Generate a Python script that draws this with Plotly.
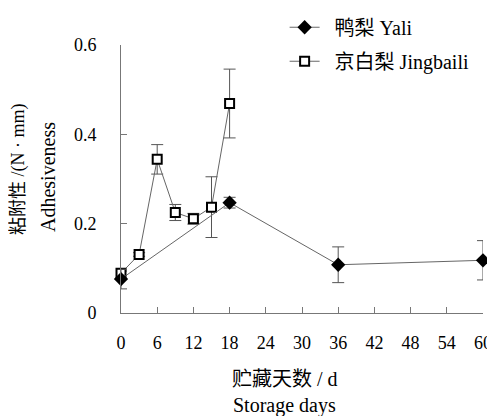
import plotly.graph_objects as go

yali_days = [0, 18, 36, 60]
yali_vals = [0.076, 0.247, 0.108, 0.118]
yali_err = [0.022, 0.012, 0.040, 0.044]

jb_days = [0, 3, 6, 9, 12, 15, 18]
jb_vals = [0.089, 0.131, 0.344, 0.225, 0.211, 0.237, 0.469]
jb_err = [0.005, 0.004, 0.033, 0.018, 0.012, 0.068, 0.077]

x_ticks = [0, 6, 12, 18, 24, 30, 36, 42, 48, 54, 60]
y_ticks = [0, 0.2, 0.4, 0.6]
y_tick_text = ["0", "0.2", "0.4", "0.6"]

FONT = "Liberation Serif, Times New Roman, Noto Sans CJK SC, serif"
LINE = "#666666"
NB = "\u00a0"

fig = go.Figure()
fig.add_trace(go.Scatter(
    x=jb_days, y=jb_vals, name=NB + NB + "京白梨 Jingbaili", mode="lines+markers",
    line=dict(color=LINE, width=1),
    marker=dict(symbol="square", size=9, color="white", line=dict(color="black", width=2)),
    error_y=dict(type="data", array=jb_err, color="#555555", thickness=1, width=6),
    cliponaxis=False, legendrank=2, legendgroup="b",
))
fig.add_trace(go.Scatter(
    x=yali_days, y=yali_vals, name=NB + NB + "鸭梨 Yali", mode="lines+markers",
    line=dict(color=LINE, width=1),
    marker=dict(symbol="diamond", size=11, color="black"),
    error_y=dict(type="data", array=yali_err, color="#555555", thickness=1, width=6),
    cliponaxis=False, legendrank=1, legendgroup="a",
))

fig.update_layout(
    width=487, height=408,
    margin=dict(l=113, r=12, t=37, b=103, autoexpand=False),
    paper_bgcolor="white", plot_bgcolor="white",
    font=dict(family=FONT, size=18, color="black"),
    showlegend=True,
    legend=dict(x=0.452, y=1.139, xanchor="left", yanchor="top",
                bgcolor="rgba(0,0,0,0)", tracegroupgap=5,
                font=dict(family=FONT, size=20)),
    xaxis=dict(range=[0, 60], tickvals=x_ticks, showgrid=False, zeroline=False,
               showline=True, linecolor="#777777", linewidth=1,
               ticks="inside", ticklen=6, tickcolor="#777777",
               ticklabelstandoff=13, tickfont=dict(size=18)),
    yaxis=dict(range=[0, 0.6], tickvals=y_ticks, ticktext=y_tick_text,
               showgrid=False, zeroline=False,
               showline=True, linecolor="#777777", linewidth=1,
               ticks="inside", ticklen=6, tickcolor="#777777",
               ticklabelstandoff=20, tickfont=dict(size=18)),
    annotations=[
        dict(text="粘附性 /(N · mm)", xref="paper", yref="paper", x=-0.285, y=0.537,
             xanchor="center", yanchor="middle", textangle=-90, showarrow=False,
             font=dict(family=FONT, size=18)),
        dict(text="Adhesiveness", xref="paper", yref="paper", x=-0.2, y=0.506,
             xanchor="center", yanchor="middle", textangle=-90, showarrow=False,
             font=dict(family=FONT, size=20)),
        dict(text="贮藏天数 / d", xref="paper", yref="paper", x=0.453, y=-0.245,
             xanchor="center", yanchor="middle", showarrow=False,
             font=dict(family=FONT, size=20)),
        dict(text="Storage days", xref="paper", yref="paper", x=0.453, y=-0.347,
             xanchor="center", yanchor="middle", showarrow=False,
             font=dict(family=FONT, size=20)),
    ],
)

fig.write_html("out.html")
